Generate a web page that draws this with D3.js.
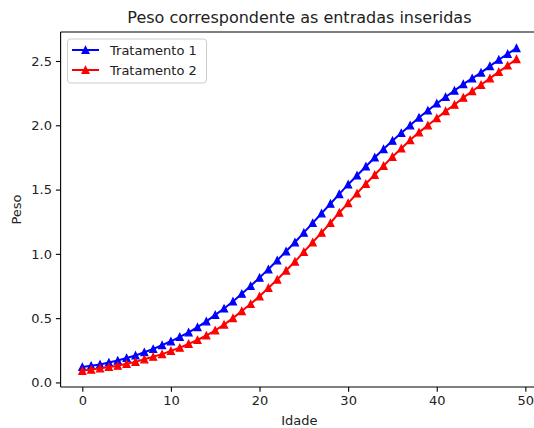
<!DOCTYPE html>
<html>
<head>
<meta charset="utf-8">
<script src="https://cdn.jsdelivr.net/npm/d3@7"></script>
<style>
  html, body { margin: 0; padding: 0; background: #fff; }
  svg { display: block; font-family: "DejaVu Sans", sans-serif; }
</style>
</head>
<body>
<svg id="chart" width="534" height="428"></svg>
<script>
const title = "Peso correspondente as entradas inseridas";
const xLabel = "Idade";
const yLabel = "Peso";
const seriesNames = ["Tratamento 1", "Tratamento 2"];
const idade = d3.range(0, 50);
const tratamento1 = [0.12,0.13,0.14,0.155,0.17,0.19,0.21,0.235,0.26,0.29,
  0.32,0.355,0.39,0.43,0.475,0.525,0.575,0.63,0.69,0.75,
  0.815,0.88,0.95,1.02,1.09,1.165,1.24,1.315,1.39,1.465,
  1.54,1.61,1.68,1.75,1.815,1.88,1.94,2.0,2.06,2.115,
  2.17,2.22,2.27,2.32,2.365,2.41,2.46,2.51,2.555,2.60];
const tratamento2 = [0.09,0.10,0.11,0.12,0.13,0.145,0.16,0.18,0.20,0.22,
  0.245,0.27,0.30,0.33,0.365,0.405,0.45,0.50,0.555,0.61,
  0.67,0.735,0.80,0.87,0.94,1.015,1.09,1.165,1.24,1.32,
  1.395,1.47,1.545,1.615,1.685,1.755,1.82,1.885,1.945,2.0,
  2.055,2.11,2.16,2.215,2.265,2.315,2.365,2.415,2.465,2.515];
const xTicks = [0, 10, 20, 30, 40, 50];
const yTicks = [0.0, 0.5, 1.0, 1.5, 2.0, 2.5];
const colors = ["#0000ff", "#ff0000"];

const svg = d3.select("#chart");
const L = 60.6, R = 538.2, T = 32, B = 387;
const fs = "13px";

const xMin = d3.min(idade), xMax = d3.max(idade);
const xm = (xMax - xMin) * 0.05;
const x = d3.scaleLinear().domain([xMin - xm, xMax + xm]).range([L, R]);
const allY = tratamento1.concat(tratamento2);
const yMin = d3.min(allY), yMax = d3.max(allY);
const ym = (yMax - yMin) * 0.05;
const y = d3.scaleLinear().domain([yMin - ym, yMax + ym]).range([B, T]);

// axes
const xAxis = svg.append("g").attr("transform", `translate(0,${B})`)
  .call(d3.axisBottom(x).tickValues(xTicks).tickFormat(d3.format("d")).tickSizeOuter(0).tickSize(4.7).tickPadding(4));
const yAxis = svg.append("g").attr("transform", `translate(${L},0)`)
  .call(d3.axisLeft(y).tickValues(yTicks).tickFormat(d3.format(".1f")).tickSizeOuter(0).tickSize(4.7).tickPadding(4));
[xAxis, yAxis].forEach(a => {
  a.select(".domain").remove();
  a.selectAll("line").attr("stroke", "#000").attr("stroke-width", 1.1);
  a.selectAll("text").attr("fill", "#222").style("font-size", fs).style("font-family", "DejaVu Sans, sans-serif");
});

// lines and markers (matplotlib-style '^')
const series = [tratamento1, tratamento2];
const line = d3.line().x((d, i) => x(idade[i])).y(d => y(d));
const h = 3.5;
const triPath = `M0,${-h}L${-h},${h}L${h},${h}Z`;

svg.append("clipPath").attr("id", "clip").append("rect")
  .attr("x", L).attr("y", T).attr("width", R - L).attr("height", B - T);
const plot = svg.append("g").attr("clip-path", "url(#clip)");

series.forEach((s, k) => {
  plot.append("path").datum(s).attr("d", line)
    .attr("fill", "none").attr("stroke", colors[k]).attr("stroke-width", 2);
  plot.selectAll(null).data(s).enter().append("path")
    .attr("d", triPath)
    .attr("transform", (d, i) => `translate(${x(idade[i])},${y(d)})`)
    .attr("fill", colors[k]).attr("stroke", colors[k]).attr("stroke-width", 1.2)
    .attr("stroke-linejoin", "miter");
});

// spines
const sp = [[L, T, L, B], [L, B, R, B], [L, T, R, T], [R, T, R, B]];
sp.forEach(s => svg.append("line").attr("x1", s[0]).attr("y1", s[1]).attr("x2", s[2]).attr("y2", s[3])
  .attr("stroke", "#000").attr("stroke-width", 1.1));

// title and labels
svg.append("text").attr("x", (L + R) / 2).attr("y", 23).attr("text-anchor", "middle")
  .style("font-size", "16px").attr("fill", "#222").text(title);
svg.append("text").attr("x", (L + R) / 2).attr("y", 425).attr("text-anchor", "middle")
  .style("font-size", fs).attr("fill", "#222").text(xLabel);
svg.append("text").attr("transform", `translate(21,${(T + B) / 2}) rotate(-90)`).attr("text-anchor", "middle")
  .style("font-size", fs).attr("fill", "#222").text(yLabel);

// legend
const lg = svg.append("g");
lg.append("rect").attr("x", 67.5).attr("y", 39).attr("width", 139).attr("height", 44)
  .attr("rx", 3).attr("fill", "#fff").attr("fill-opacity", 0.8).attr("stroke", "#ccc").attr("stroke-width", 1);
seriesNames.forEach((n, k) => {
  const ly = 50 + k * 20;
  lg.append("line").attr("x1", 72).attr("x2", 99).attr("y1", ly).attr("y2", ly)
    .attr("stroke", colors[k]).attr("stroke-width", 2);
  lg.append("path").attr("d", triPath).attr("transform", `translate(85.5,${ly})`)
    .attr("fill", colors[k]).attr("stroke", colors[k]).attr("stroke-width", 1.2);
  lg.append("text").attr("x", 110).attr("y", ly + 4.7).style("font-size", fs).attr("fill", "#222").text(n);
});
</script>
</body>
</html>
